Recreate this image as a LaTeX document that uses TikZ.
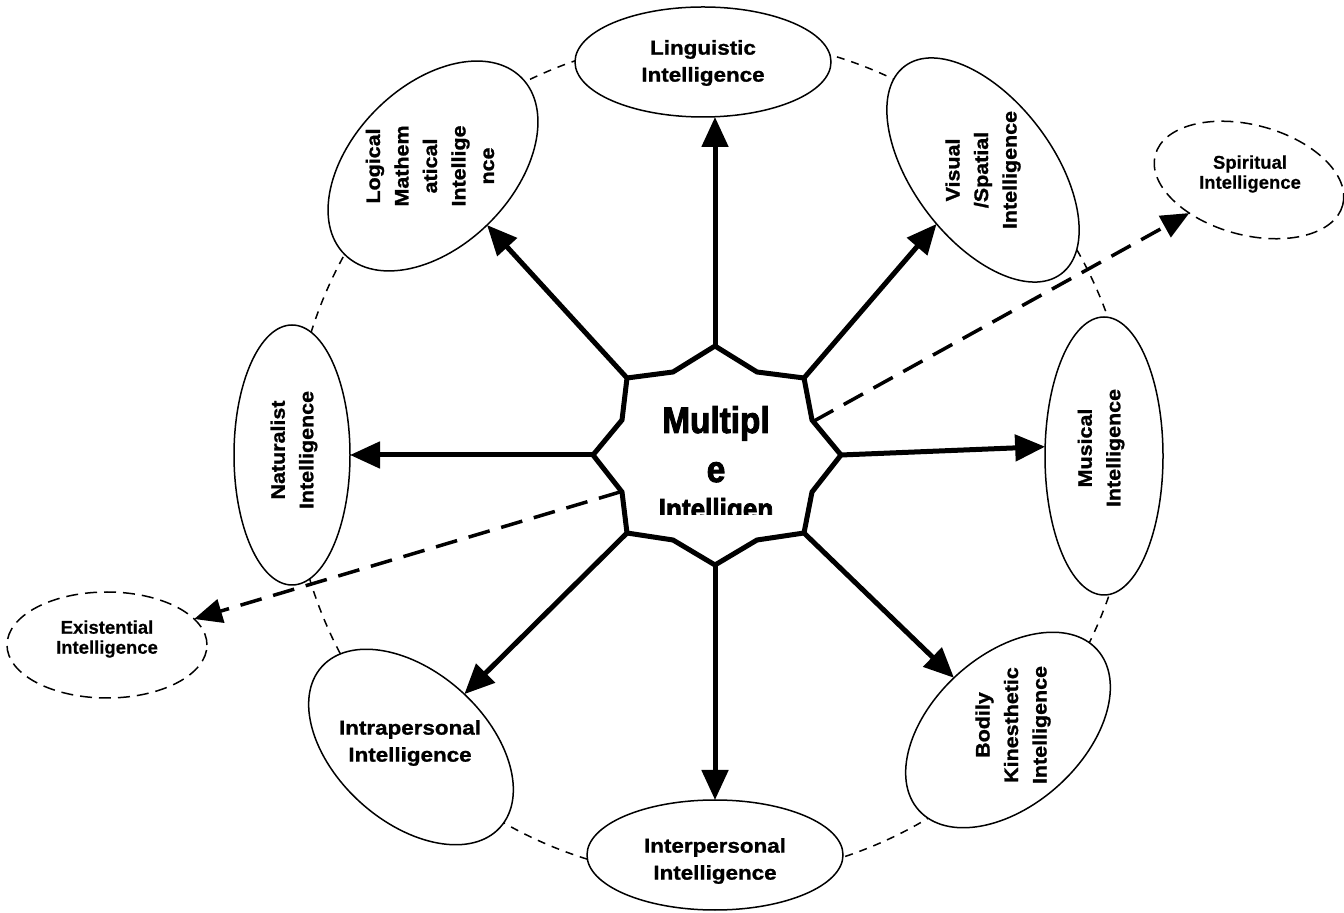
\documentclass[tikz,border=0pt]{standalone}
\usepackage{fontspec}
\setmainfont{Liberation Sans}
\newfontfamily\hfont{Liberation Sans}[FakeStretch=1.12,FakeBold=1.2]
\newfontfamily\vfont{Liberation Sans}[FakeStretch=1.1,FakeBold=1.2]
\newfontfamily\sfont{Liberation Sans}[FakeBold=0.4]
\newfontfamily\cfont{Liberation Sans}[FakeStretch=0.9,FakeBold=2.5]
\usetikzlibrary{shapes.geometric,arrows.meta}
\tikzset{
  ell/.style={ellipse, draw, line width=0.75pt, fill=white, inner sep=0pt, outer sep=0pt},
  dell/.style={ell, dash pattern=on 6pt off 3.5pt},
  htext/.style={font=\hfont\bfseries\fontsize{10pt}{13.5pt}\selectfont, align=center, inner sep=0pt},
  vtext/.style={font=\vfont\bfseries\fontsize{9.75pt}{14.25pt}\selectfont, align=center, rotate=90, inner sep=0pt},
  stext/.style={font=\sfont\bfseries\fontsize{9.25pt}{10pt}\selectfont, align=center, inner sep=0pt},
  arr/.style={line width=2.5pt, -{Triangle[length=15pt,width=13pt]}},
  darr/.style={line width=1.75pt, dash pattern=on 11pt off 6pt, -{Triangle[length=14pt,width=12pt]}},
  ring/.style={circle, draw, line width=0.75pt, dash pattern=on 4pt off 3.5pt, inner sep=0pt, outer sep=0pt},
  star/.style={draw, line width=2.5pt, fill=white, line join=miter},
  ctext/.style={font=\cfont\bfseries, anchor=base, inner sep=0pt}
}
\begin{document}
\begin{tikzpicture}[x=0.5pt,y=-0.5pt]
\useasboundingbox (0,0) rectangle (1344,913);
% dashed ring
\node[ring, minimum size=420pt] (ringc) at (712,458) {};
% ellipses
\node[ell, minimum width=128pt, minimum height=55pt] (ling) at (703,62) {};
\node[ell, minimum width=130pt, minimum height=70pt, rotate=-53] (vis) at (983,170) {};
\node[dell, minimum width=97pt, minimum height=55pt, rotate=-15] (spir) at (1249,180) {};
\node[ell, minimum width=59pt, minimum height=139pt] (mus) at (1104,456) {};
\node[ell, minimum width=120pt, minimum height=75pt, rotate=42] (bod) at (1008,730) {};
\node[ell, minimum width=128pt, minimum height=55pt] (inter) at (715,855) {};
\node[ell, minimum width=120pt, minimum height=75pt, rotate=-42] (intra) at (411,747) {};
\node[dell, minimum width=100pt, minimum height=53pt] (exis) at (107,645) {};
\node[ell, minimum width=58pt, minimum height=130pt] (nat) at (292,455) {};
\node[ell, minimum width=125pt, minimum height=80pt, rotate=45] (log) at (433,166) {};
% labels
\node[htext] (lingt) at (703,63) {Linguistic\\Intelligence};
\node[vtext] (vist) at (983,170) {Visual\\/Spatial\\Intelligence};
\node[stext] (spirt) at (1250,174) {Spiritual\\Intelligence};
\node[vtext] (must) at (1101,448) {Musical\\Intelligence};
\node[vtext] (bodt) at (1013,725) {Bodily\\Kinesthetic\\Intelligence};
\node[htext] (intert) at (715,861) {Interpersonal\\Intelligence};
\node[htext] (intrat) at (410,743) {Intrapersonal\\Intelligence};
\node[stext] (exist) at (107,639) {Existential\\Intelligence};
\node[vtext] (natt) at (294,450) {Naturalist\\Intelligence};
\node[vtext] (logt) at (430,166) {Logical\\Mathem\\atical\\Intellige\\nce};
% centre shape points
\coordinate (p1) at (715,346);
\coordinate (q1) at (757,372);
\coordinate (p2) at (804,378);
\coordinate (q2) at (812,420);
\coordinate (p3) at (841,455);
\coordinate (q3) at (812,492);
\coordinate (p4) at (804,533);
\coordinate (q4) at (757,540);
\coordinate (p5) at (715,565);
\coordinate (q5) at (673,540);
\coordinate (p6) at (627,533);
\coordinate (q6) at (622,492);
\coordinate (p7) at (593,455);
\coordinate (q7) at (622,420);
\coordinate (p8) at (627,378);
\coordinate (q8) at (673,372);
\coordinate (s1) at (814,421);
\coordinate (s2) at (620,492);
% arrows
\draw[arr] (p1) -- (p1 |- ling.south);
\draw[arr] (p2) -- (vis);
\draw[arr] (p3) -- (mus.171);
\draw[arr] (p4) -- (bod);
\draw[arr] (p5) -- (p5 |- inter.north);
\draw[arr] (p6) -- (intra);
\draw[arr] (p7) -- (p7 -| nat.east);
\draw[arr] (p8) -- (log);
\draw[darr] (s1) -- (spir);
\draw[darr] (s2) -- (exis);
% centre shape
\draw[star] (p1) -- (q1) -- (p2) -- (q2) -- (p3) -- (q3) -- (p4) -- (q4) -- (p5) -- (q5) -- (p6) -- (q6) -- (p7) -- (q7) -- (p8) -- (q8) -- cycle;
\begin{scope}
\clip (600,380) rectangle (830,515);
\node[ctext, font=\cfont\bfseries\fontsize{18.5pt}{20pt}\selectfont] (m1) at (716,433) {Multipl};
\node[ctext, font=\cfont\bfseries\fontsize{18.5pt}{20pt}\selectfont] (m2) at (716,482) {e};
\node[ctext, font=\cfont\bfseries\fontsize{14.5pt}{16pt}\selectfont] (m3) at (716,519) {Intelligen};
\end{scope}
\end{tikzpicture}
\end{document}
